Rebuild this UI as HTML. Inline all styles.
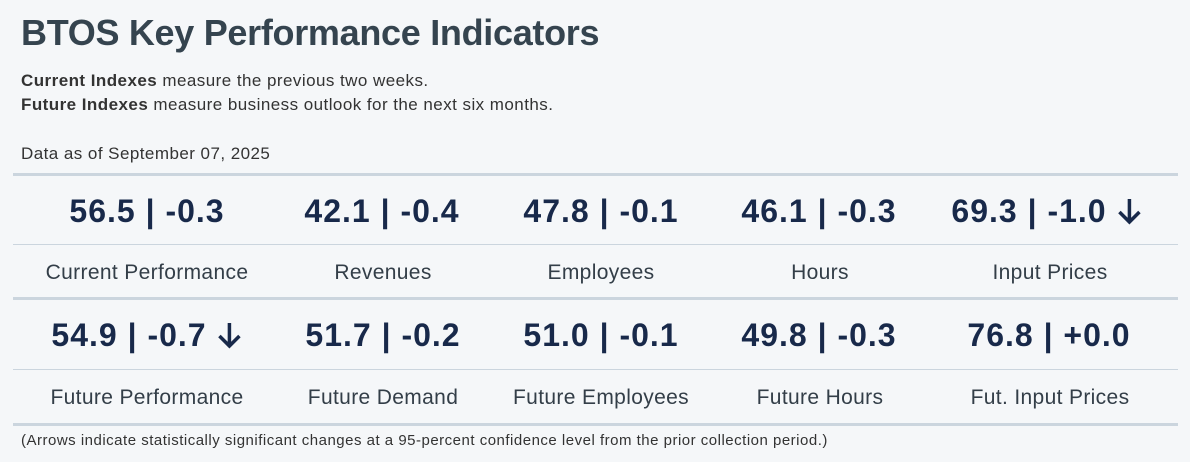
<!DOCTYPE html>
<html><head><meta charset="utf-8"><style>
body{margin:0;width:1190px;height:462px;background:#f5f7f9;font-family:"Liberation Sans",sans-serif;position:relative;overflow:hidden;color:#333e48}
.a{position:absolute;white-space:nowrap}
h1{position:absolute;left:21px;top:12px;margin:0;font-size:36px;font-weight:bold;color:#35444f;letter-spacing:-0.3px}
.sub{left:21px;font-size:17px;letter-spacing:0.45px;color:#333}
.line{position:absolute;left:13px;width:1165px;background:#cbd5de}
.v{font-size:32px;font-weight:bold;color:#18294a;letter-spacing:1px;transform:translateX(-50%)}
.l{font-size:21px;letter-spacing:0.35px;color:#333e48;transform:translateX(-50%)}
.v svg{vertical-align:-3px;margin-left:10px}
</style></head><body>
<h1>BTOS Key Performance Indicators</h1>
<div class="a sub" style="top:71px"><b>Current Indexes</b> measure the previous two weeks.</div>
<div class="a sub" style="top:95px"><b>Future Indexes</b> measure business outlook for the next six months.</div>
<div class="a sub" style="top:144px">Data as of September 07, 2025</div>
<div class="line" style="top:173px;height:3px"></div>
<div class="line" style="top:244px;height:1px"></div>
<div class="line" style="top:297px;height:3px"></div>
<div class="line" style="top:369px;height:1px"></div>
<div class="line" style="top:423px;height:3px"></div>

<div class="a v" style="left:147px;top:193px">56.5 | -0.3</div>
<div class="a v" style="left:382px;top:193px">42.1 | -0.4</div>
<div class="a v" style="left:601px;top:193px">47.8 | -0.1</div>
<div class="a v" style="left:819px;top:193px">46.1 | -0.3</div>
<div class="a v" style="left:1047px;top:193px">69.3 | -1.0<svg width="26" height="28" viewBox="0 0 26 28"><path d="M13 2V25M3 15L13 25L23 15" stroke="#18294a" stroke-width="3.5" fill="none"/></svg></div>
<div class="a l" style="left:147px;top:261px">Current Performance</div>
<div class="a l" style="left:383px;top:261px">Revenues</div>
<div class="a l" style="left:601px;top:261px">Employees</div>
<div class="a l" style="left:820px;top:261px">Hours</div>
<div class="a l" style="left:1050px;top:261px">Input Prices</div>

<div class="a v" style="left:147px;top:317px">54.9 | -0.7<svg width="26" height="28" viewBox="0 0 26 28"><path d="M13 2V25M3 15L13 25L23 15" stroke="#18294a" stroke-width="3.5" fill="none"/></svg></div>
<div class="a v" style="left:383px;top:317px">51.7 | -0.2</div>
<div class="a v" style="left:601px;top:317px">51.0 | -0.1</div>
<div class="a v" style="left:819px;top:317px">49.8 | -0.3</div>
<div class="a v" style="left:1049px;top:317px">76.8 | +0.0</div>
<div class="a l" style="left:147px;top:386px">Future Performance</div>
<div class="a l" style="left:383px;top:386px">Future Demand</div>
<div class="a l" style="left:601px;top:386px">Future Employees</div>
<div class="a l" style="left:820px;top:386px">Future Hours</div>
<div class="a l" style="left:1050px;top:386px">Fut. Input Prices</div>

<div class="a" style="left:21px;top:432px;font-size:15px;letter-spacing:0.5px;color:#333">(Arrows indicate statistically significant changes at a 95-percent confidence level from the prior collection period.)</div>
</body></html>
